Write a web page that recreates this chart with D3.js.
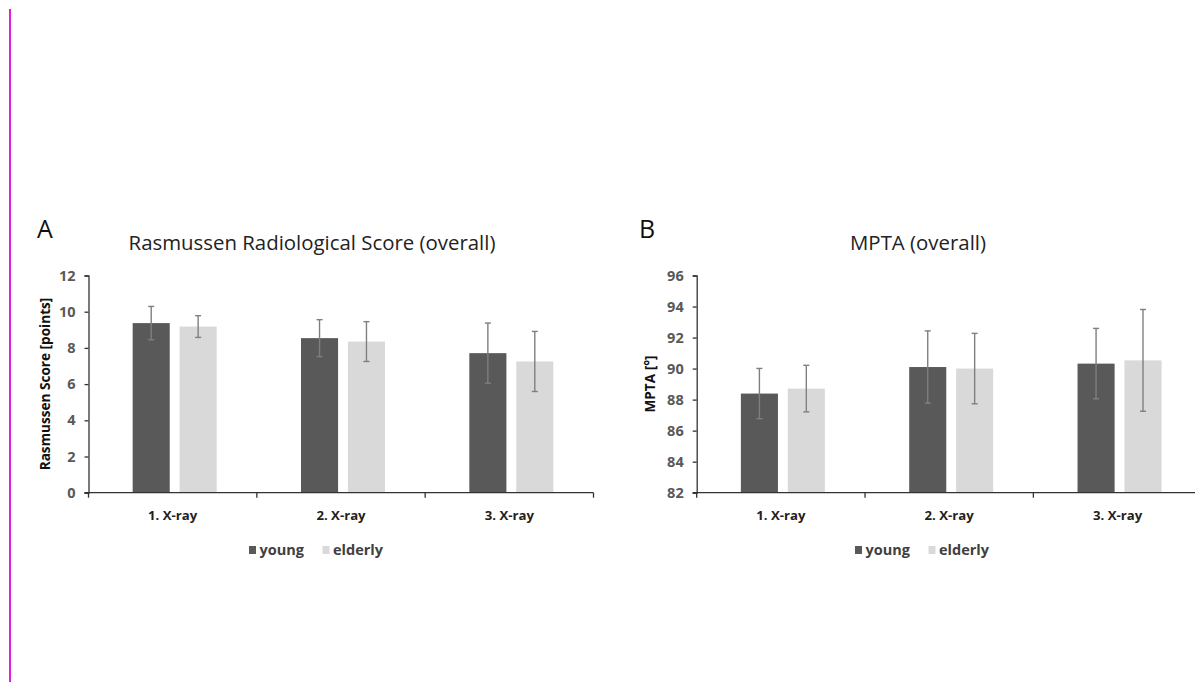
<!DOCTYPE html>
<html>
<head>
<meta charset="utf-8">
<script src="https://cdn.jsdelivr.net/npm/d3@7"></script>
<style>
  body { margin: 0; background: #fff; }
  svg { display: block; font-family: Lato, "Open Sans", sans-serif; }
</style>
</head>
<body>
<svg id="chart" width="1195" height="682"></svg>
<script>
// categories and series
const xrays = ["1. X-ray", "2. X-ray", "3. X-ray"];
const groups = ["young", "elderly"];
const groupColors = ["#595959", "#d9d9d9"];

// panel A: Rasmussen score (mean, sd)
const rasYoung = [9.37, 8.54, 7.71];
const rasYoungSd = [0.92, 1.02, 1.66];
const rasElderly = [9.18, 8.35, 7.25];
const rasElderlySd = [0.60, 1.10, 1.66];
const rasTicks = [0, 2, 4, 6, 8, 10, 12];

// panel B: MPTA (mean, sd)
const mptaYoung = [88.39, 90.10, 90.32];
const mptaYoungSd = [1.62, 2.33, 2.27];
const mptaElderly = [88.71, 90.00, 90.53];
const mptaElderlySd = [1.50, 2.27, 3.28];
const mptaTicks = [82, 84, 86, 88, 90, 92, 94, 96];

const svg = d3.select("#chart");

// magenta guide line on the left edge
svg.append("rect")
  .attr("x", 9).attr("y", 9)
  .attr("width", 1.5).attr("height", 673)
  .attr("fill", "#e31ee3")
  .attr("shape-rendering", "crispEdges");

/* ================================
   PANEL BUILDER
================================ */
function drawPanel(cfg) {
  const g = svg.append("g");

  const x0 = d3.scaleBand().domain(xrays).range([cfg.left, cfg.left + 505]);
  const x1 = d3.scaleBand().domain(groups).range([0, 84]).paddingInner(0.21);
  const y = d3.scaleLinear().domain(cfg.domain).range([492.7, 275.5]);

  const rows = xrays.map((c, i) => ({
    cat: c,
    vals: [
      { grp: "young", v: cfg.young[i], sd: cfg.youngSd[i] },
      { grp: "elderly", v: cfg.elderly[i], sd: cfg.elderlySd[i] }
    ]
  }));

  // letter + title
  g.append("text")
    .attr("x", cfg.letterX).attr("y", 238)
    .attr("font-size", 25).attr("fill", "#111")
    .attr("font-family", "'Open Sans', sans-serif")
    .text(cfg.letter);

  g.append("text")
    .attr("x", cfg.titleX).attr("y", 250)
    .attr("text-anchor", "middle")
    .attr("font-size", 20.4).attr("fill", "#222")
    .attr("font-family", "'Open Sans', sans-serif")
    .text(cfg.title);

  // bars
  const grp = g.selectAll("g.cat").data(rows).join("g")
    .attr("class", "cat")
    .attr("transform", d => `translate(${x0(d.cat) + (x0.bandwidth() - 84) / 2 + 2},0)`);

  grp.selectAll("rect").data(d => d.vals).join("rect")
    .attr("x", d => x1(d.grp))
    .attr("width", x1.bandwidth())
    .attr("y", d => y(d.v))
    .attr("height", d => y(cfg.domain[0]) - y(d.v))
    .attr("fill", (d, i) => groupColors[i]);

  // error bars
  const eb = grp.selectAll("g.err").data(d => d.vals).join("g")
    .attr("class", "err")
    .attr("stroke", "#7f7f7f").attr("stroke-width", 1.4);
  eb.append("line")
    .attr("x1", d => x1(d.grp) + x1.bandwidth() / 2)
    .attr("x2", d => x1(d.grp) + x1.bandwidth() / 2)
    .attr("y1", d => y(d.v + d.sd))
    .attr("y2", d => y(d.v - d.sd));
  eb.append("line")
    .attr("x1", d => x1(d.grp) + x1.bandwidth() / 2 - 3)
    .attr("x2", d => x1(d.grp) + x1.bandwidth() / 2 + 3)
    .attr("y1", d => y(d.v + d.sd))
    .attr("y2", d => y(d.v + d.sd));
  eb.append("line")
    .attr("x1", d => x1(d.grp) + x1.bandwidth() / 2 - 3)
    .attr("x2", d => x1(d.grp) + x1.bandwidth() / 2 + 3)
    .attr("y1", d => y(d.v - d.sd))
    .attr("y2", d => y(d.v - d.sd));

  // y axis
  const yAxisG = g.append("g")
    .attr("transform", `translate(${cfg.left},0)`)
    .call(d3.axisLeft(y).tickValues(cfg.ticks).tickSize(4).tickPadding(9));
  yAxisG.select(".domain").attr("stroke", "#333").attr("stroke-width", 1.3);
  yAxisG.selectAll(".tick line").attr("stroke", "#333").attr("stroke-width", 1.3);
  yAxisG.selectAll(".tick text")
    .attr("font-size", 14.5).attr("font-weight", "bold").attr("fill", "#595959")
    .attr("font-family", "'Open Sans', sans-serif");

  g.append("text")
    .attr("transform", `translate(${cfg.ylabX},384) rotate(-90)`)
    .attr("text-anchor", "middle")
    .attr("font-size", 13.6).attr("font-weight", "bold").attr("fill", "#111")
    .attr("font-family", "'Open Sans', sans-serif")
    .text(cfg.ylabel);

  // x axis with boundary ticks
  const xAxisG = g.append("g").attr("transform", "translate(0,492.7)");
  xAxisG.append("line")
    .attr("x1", cfg.left - 4).attr("x2", x0.range()[1])
    .attr("stroke", "#333").attr("stroke-width", 1.3);
  const bounds = xrays.map(c => x0(c)).concat([x0.range()[1]]);
  xAxisG.selectAll("line.tk").data(bounds).join("line")
    .attr("class", "tk")
    .attr("x1", d => d).attr("x2", d => d)
    .attr("y1", 0).attr("y2", 5)
    .attr("stroke", "#333").attr("stroke-width", 1.3);
  xAxisG.selectAll("text").data(xrays).join("text")
    .attr("x", d => x0(d) + x0.bandwidth() / 2)
    .attr("y", 27)
    .attr("text-anchor", "middle")
    .attr("font-size", 13.2).attr("font-weight", "bold").attr("fill", "#222")
    .attr("font-family", "'Open Sans', sans-serif")
    .text(d => d);

  // legend
  const lg = g.append("g").attr("transform", `translate(${cfg.legendX},550)`);
  const item = lg.selectAll("g").data(groups).join("g")
    .attr("transform", (d, i) => `translate(${i * 73.5},0)`);
  item.append("rect")
    .attr("x", 0).attr("y", -4)
    .attr("width", 7).attr("height", 8)
    .attr("fill", (d, i) => groupColors[i]);
  item.append("text")
    .attr("x", 10.5).attr("y", 5)
    .attr("font-size", 14.5).attr("font-weight", "bold").attr("fill", "#404040")
    .attr("font-family", "'Open Sans', sans-serif")
    .text(d => d);
}

drawPanel({
  left: 88.5, domain: [0, 12], ticks: rasTicks,
  young: rasYoung, youngSd: rasYoungSd, elderly: rasElderly, elderlySd: rasElderlySd,
  letter: "A", letterX: 37, title: "Rasmussen Radiological Score (overall)", titleX: 312,
  ylabel: "Rasmussen Score [points]", ylabX: 50, legendX: 249
});

drawPanel({
  left: 696.7, domain: [82, 96], ticks: mptaTicks,
  young: mptaYoung, youngSd: mptaYoungSd, elderly: mptaElderly, elderlySd: mptaElderlySd,
  letter: "B", letterX: 639, title: "MPTA (overall)", titleX: 918,
  ylabel: "MPTA [°]", ylabX: 655, legendX: 855
});
</script>
</body>
</html>
